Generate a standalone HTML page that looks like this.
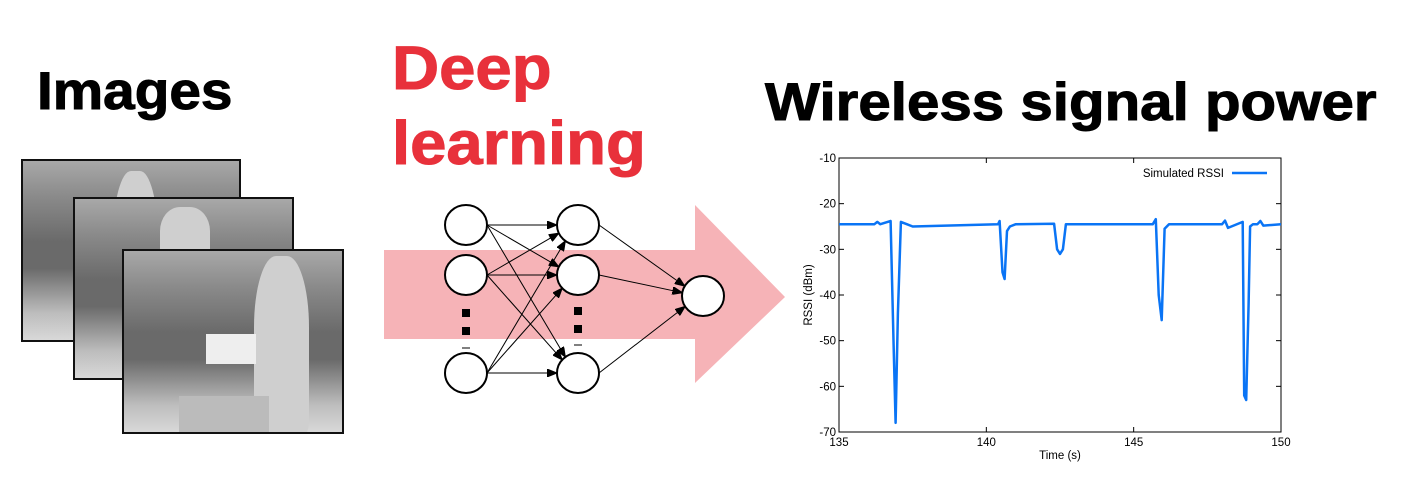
<!DOCTYPE html>
<html><head><meta charset="utf-8"><style>
body{margin:0;width:1412px;height:485px;background:#fff;overflow:hidden;position:relative;font-family:"Liberation Sans",Arial,sans-serif}
.t{position:absolute;font-weight:bold;white-space:nowrap;line-height:1;transform-origin:0 0;-webkit-text-stroke:1px currentColor}
.frame{position:absolute;border:2px solid #111;box-sizing:border-box;background:linear-gradient(180deg,#a8a8a8 0%,#8a8a8a 20%,#6a6a6a 45%,#6a6a6a 60%,#bdbdbd 85%,#d8d8d8 100%);overflow:hidden}
.fig{position:absolute;background:#cfcfcf;border-radius:40% 40% 8% 8%}
</style></head><body>
<div class="t" style="left:37px;top:65px;font-size:53px;transform:scaleX(1.07)">Images</div>
<div class="t" style="left:392px;top:31px;font-size:61px;color:#e8313b;line-height:75px;transform:scaleX(1.07)">Deep<br>learning</div>
<div class="t" style="left:765px;top:77px;font-size:52.5px;transform:scaleX(1.11)">Wireless signal power</div>

<div class="frame" style="left:21px;top:159px;width:220px;height:183px"><div class="fig" style="left:90px;top:10px;width:45px;height:170px"></div></div>
<div class="frame" style="left:73px;top:197px;width:221px;height:183px"><div class="fig" style="left:85px;top:8px;width:50px;height:60px"></div></div>
<div class="frame" style="left:122px;top:249px;width:222px;height:185px"><div class="fig" style="left:130px;top:5px;width:55px;height:178px"></div><div style="position:absolute;left:82px;top:83px;width:50px;height:30px;background:#eee"></div><div style="position:absolute;left:55px;top:145px;width:90px;height:38px;background:#bbb"></div></div>

<svg style="position:absolute;left:0;top:0" width="1412" height="485">
<polygon points="384,250 695,250 695,205 785,297 695,383 695,339 384,339" fill="#f6b3b7"/>
<g id="net" stroke="#000" stroke-width="1"></g>
</svg>

<svg id="chart" style="position:absolute;left:0;top:0" width="1412" height="485"></svg>

<script>
const NS="http://www.w3.org/2000/svg";
function mk(p,tag,a){const e=document.createElementNS(NS,tag);for(const k in a)e.setAttribute(k,a[k]);p.appendChild(e);return e;}
const net=document.getElementById('net');
const L1=[[466,225],[466,275],[466,373]],L2=[[578,225],[578,275],[578,373]],OUT=[703,296];
const defs=mk(net,'defs',{});const m=mk(defs,'marker',{id:'ah',markerWidth:'10',markerHeight:'8',refX:'10',refY:'4',orient:'auto',markerUnits:'userSpaceOnUse'});mk(m,'path',{d:'M0,0L10,4L0,8z',fill:'#000'});
L1.forEach(a=>L2.forEach(b=>{const dx=b[0]-a[0],dy=b[1]-a[1],d=Math.hypot(dx,dy);const l=mk(net,'line',{x1:a[0]+21,y1:a[1],x2:b[0]-21*dx/d,y2:b[1]-20*dy/d,'marker-end':'url(#ah)'});}));
L2.forEach(a=>{const dx=OUT[0]-a[0],dy=OUT[1]-a[1],d=Math.hypot(dx,dy);mk(net,'line',{x1:a[0]+21,y1:a[1],x2:OUT[0]-21*dx/d,y2:OUT[1]-20*dy/d,'marker-end':'url(#ah)'});});
[...L1,...L2,OUT].forEach(c=>{const e=mk(net,'ellipse',{cx:c[0],cy:c[1],rx:21,ry:20,fill:'#fff','stroke-width':2});});
[[466,313],[466,331],[578,311],[578,329]].forEach(p=>mk(net,'rect',{x:p[0]-4,y:p[1]-4,width:8,height:8,fill:'#000',stroke:'none'}));
[[466,348],[578,345]].forEach(p=>mk(net,'line',{x1:p[0]-4,y1:p[1],x2:p[0]+4,y2:p[1]}));
</script>
<script>
const times=[135,136.2,136.3,136.4,136.75,136.85,136.92,137.0,137.1,137.3,137.5,140.4,140.45,140.55,140.62,140.7,140.8,141.0,142.3,142.4,142.5,142.6,142.7,145.65,145.75,145.85,145.95,146.05,146.2,148.0,148.1,148.2,148.7,148.75,148.82,148.9,148.95,149.05,149.2,149.3,149.4,150];
const rssi=[-24.5,-24.5,-24,-24.5,-23.8,-50,-68,-44,-24,-24.5,-25,-24.5,-23.8,-35,-36.5,-26,-25,-24.5,-24.4,-30,-31,-30,-24.5,-24.5,-23.4,-40,-45.5,-25.5,-24.5,-24.5,-23.7,-25.3,-24,-62,-63,-42,-25,-24.5,-24.5,-23.8,-24.8,-24.5];
const xTicks=[135,140,145,150];
const yTicks=[-10,-20,-30,-40,-50,-60,-70];
const svg=document.getElementById('chart');
const X0=839,X1=1281,Y0=158,Y1=432;
const xs=v=>X0+(v-135)/(150-135)*(X1-X0);
const ys=v=>Y0+(-10-v)/60*(Y1-Y0);
const frame=mk(svg,'rect',{x:X0,y:Y0,width:X1-X0,height:Y1-Y0,fill:'#fff',stroke:'#000','stroke-width':1});

const f="font-family:'Liberation Sans',Arial,sans-serif;font-size:11.5px";
xTicks.forEach(t=>{const x=xs(t);mk(svg,'line',{x1:x,y1:Y1,x2:x,y2:Y1-5,stroke:'#000'});mk(svg,'line',{x1:x,y1:Y0,x2:x,y2:Y0+5,stroke:'#000'});
const e=mk(svg,'text',{x:x,y:Y1+14,'text-anchor':'middle',style:f});e.textContent=t;});
yTicks.forEach(t=>{const y=ys(t);mk(svg,'line',{x1:X0,y1:y,x2:X0+5,y2:y,stroke:'#000'});mk(svg,'line',{x1:X1,y1:y,x2:X1-5,y2:y,stroke:'#000'});
const e=mk(svg,'text',{x:X0-3,y:y+4,'text-anchor':'end',style:f});e.textContent=t;});
const xt=mk(svg,'text',{x:(X0+X1)/2,y:Y1+27,'text-anchor':'middle',style:f});xt.textContent='Time (s)';


const yt=mk(svg,'text',{x:0,y:0,'text-anchor':'middle',transform:`translate(812,${(Y0+Y1)/2}) rotate(-90)`,style:f});yt.textContent='RSSI (dBm)';


const lt=mk(svg,'text',{x:1224,y:177,'text-anchor':'end',style:f});lt.textContent='Simulated RSSI';


const ll=mk(svg,'line',{x1:1232,y1:173,x2:1267,y2:173,stroke:'#0a74f5','stroke-width':2.5});


const d=times.map((t,i)=>(i?'L':'M')+xs(t).toFixed(1)+','+ys(rssi[i]).toFixed(1)).join('');
const p=mk(svg,'path',{d:d,fill:'none',stroke:'#0a74f5','stroke-width':2.5,'stroke-linejoin':'round'});


</script>
</body></html>
